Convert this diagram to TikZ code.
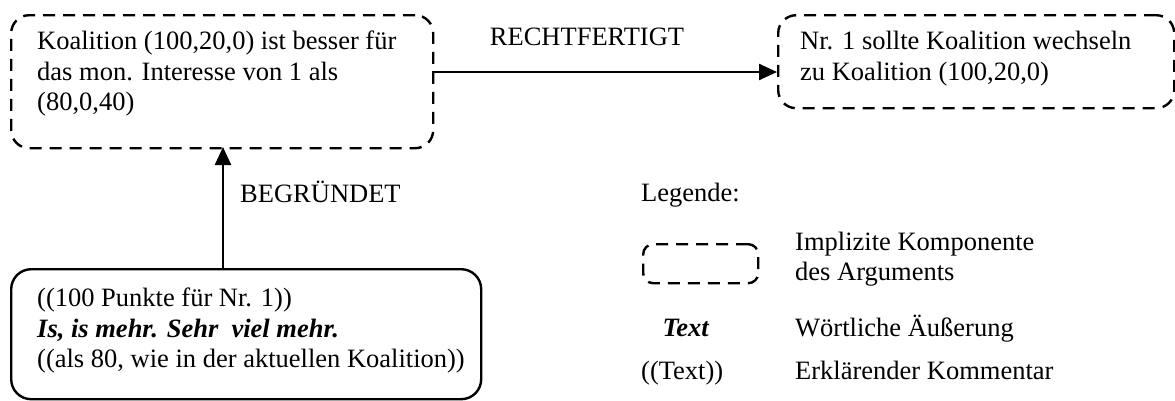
\documentclass[tikz,border=0pt]{standalone}
\usepackage{fontspec}
\setmainfont{Liberation Serif}
\usetikzlibrary{arrows.meta}
\begin{document}
\begin{tikzpicture}[x=1pt,y=-1pt,
  font=\fontsize{26.5}{30.5}\selectfont,
  implicit/.style={draw,line width=2.4pt,dash pattern=on 12pt off 8pt,rounded corners=18pt,inner sep=0pt},
  explicit/.style={draw,line width=2.4pt,rounded corners=20pt,inner sep=0pt},
  txt/.style={inner sep=0pt,align=left,anchor=north west},
  lbl/.style={inner sep=0pt},
  conn/.style={line width=2.4pt,-{Triangle[length=18pt,width=16pt]}}
]
\useasboundingbox (0,0) rectangle (1175,400);
% boxes
\node[implicit,minimum width=422pt,minimum height=133pt,anchor=north west] (b1) at (10,14) {};
\node[implicit,minimum width=396pt,minimum height=93pt,anchor=north west] (b2) at (777,14) {};
\node[explicit,minimum width=470pt,minimum height=130pt,anchor=north west] (b3) at (10,268) {};
% texts
\node[txt] (t1) at (37,31) {Koalition (100,20,0) ist besser für\\das mon. Interesse von 1 als\\(80,0,40)};
\node[txt] (t2) at (800,31) {Nr. 1 sollte Koalition wechseln\\zu Koalition (100,20,0)};
\node[txt] (t3) at (37,288) {((100 Punkte für Nr. 1))\\\textbf{\textit{Is, is mehr. Sehr\ \ viel mehr.}}\\((als 80, wie in der aktuellen Koalition))};
% connectors
\coordinate (a1) at (432,72);
\coordinate (a2) at (777,72);
\draw[conn] (a1) -- (a2);
\node[lbl] (r) at (587,37) {RECHTFERTIGT};
\coordinate (v1) at (223,268);
\coordinate (v2) at (223,147);
\draw[conn] (v1) -- (v2);
\node[lbl,anchor=west] (g) at (240,192) {BEGRÜNDET};
% legend
\node[lbl,anchor=base west] (leg) at (641,201) {Legende:};
\node[implicit,rounded corners=10pt,minimum width=115pt,minimum height=39pt,anchor=north west] (lb) at (642,243) {};
\node[txt,anchor=west] (l1) at (795,259) {Implizite Komponente\\des Arguments};
\node[lbl,anchor=base] (l2a) at (686,336) {\textbf{\textit{Text}}};
\node[lbl,anchor=base west] (l2) at (795,336) {Wörtliche Äußerung};
\node[lbl,anchor=base west] (l3a) at (641,379) {((Text))};
\node[lbl,anchor=base west] (l3) at (795,379) {Erklärender Kommentar};
\end{tikzpicture}
\end{document}
